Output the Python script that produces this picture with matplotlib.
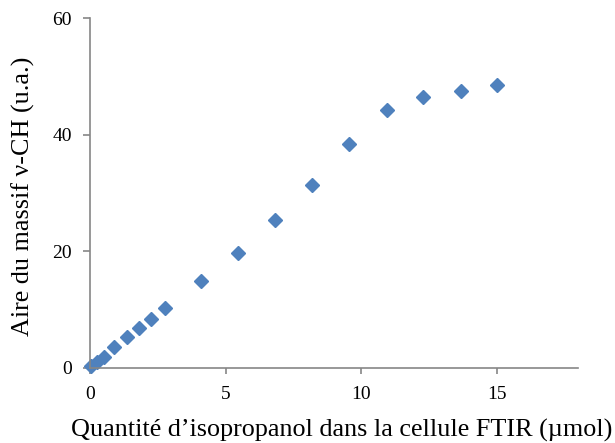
import matplotlib
matplotlib.use("Agg")
from matplotlib import pyplot as plt

# Values
quantite_umol = [0.05, 0.25, 0.5, 0.9, 1.35, 1.81, 2.25, 2.75,
                 4.09, 5.47, 6.84, 8.2, 9.57, 10.94, 12.3, 13.67, 15.0]
aire_massif = [0.2, 0.9, 1.8, 3.5, 5.2, 6.8, 8.4, 10.2,
               14.9, 19.6, 25.3, 31.4, 38.4, 44.2, 46.4, 47.5, 48.5]

x_ticks = [0, 5, 10, 15]
y_ticks = [0, 20, 40, 60]

plt.rcParams['font.family'] = ['Liberation Serif', 'DejaVu Serif']

fig = plt.figure(figsize=(6.15, 4.43), dpi=100)
ax = fig.add_axes([0.1463, 0.1704, 0.7935, 0.7883])

ax.plot(quantite_umol, aire_massif, linestyle='none', marker='D',
        markersize=6.8, color='#4F81BD', clip_on=False)

ax.set_xlim(0, 18)
ax.set_ylim(0, 60)
ax.set_xticks(x_ticks)
ax.set_yticks(y_ticks)

for side in ['top', 'right']:
    ax.spines[side].set_visible(False)
for side in ['left', 'bottom']:
    ax.spines[side].set_color('#868686')
    ax.spines[side].set_linewidth(1.2)

ax.tick_params(axis='y', direction='out', length=5, width=1.2, color='#868686',
               labelsize=14, pad=8)
ax.tick_params(axis='x', direction='out', length=4, width=1.2, color='#868686',
               labelsize=14, pad=9)

ax.set_xlabel('Quantité d\u2019isopropanol dans la cellule FTIR (\u00b5mol)',
              fontsize=18.8)
ax.set_ylabel('Aire du massif \u03bd-CH (u.a.)', fontsize=18.8)
ax.xaxis.set_label_coords(0.515, -0.148)
ax.yaxis.set_label_coords(-0.112, 0.49)

fig.savefig('out.png', dpi=100)
